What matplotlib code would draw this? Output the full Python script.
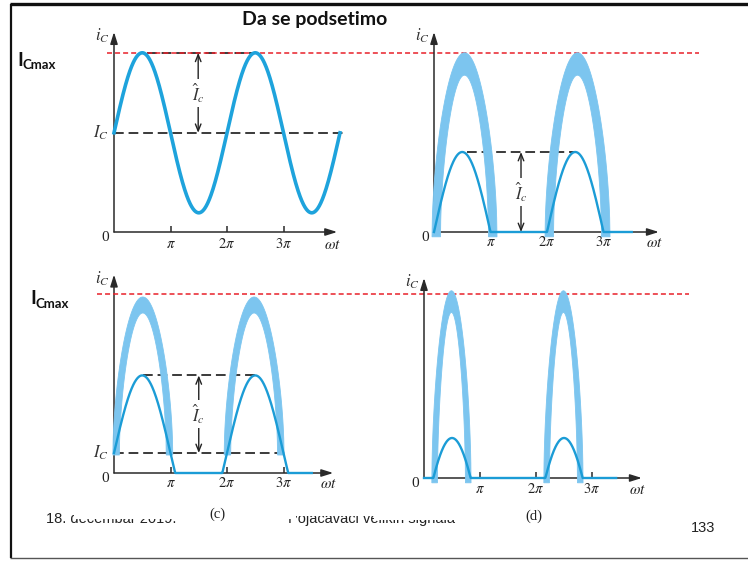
import matplotlib

matplotlib.use("Agg")
import matplotlib.pyplot as plt
import numpy as np
from matplotlib.patches import Polygon, Rectangle

W, H = 748, 562

# waveform values, current in units of the signal amplitude, omega*t in units of pi
IC_MAX = 2.24
AMPLITUDE = 1.0
BIAS_A = 1.24
BIAS_AB = 0.25
AMPLITUDE_AB = 0.97
CUTOFF_C = 0.5

END_A = 4.0
END_B = 3.5
END_AB = 3.5
END_C = 3.43

TICKS = [1, 2, 3]
TICK_LABELS = [r"$\pi$", r"$2\pi$", r"$3\pi$"]

# large-signal bands: outer half width, outer peak, inner half width, inner peak, base
BAND_CENTERS_B = [0.54, 2.54]
BAND_B = [0.575, 2.24, 0.425, 1.96, -0.06]
BAND_CENTERS_AB = [0.51, 2.48]
BAND_AB = [0.53, 2.2, 0.415, 2.0, 0.225]
BAND_CENTERS_C = [0.49, 2.49]
BAND_C = [0.35, 2.34, 0.25, 2.07, -0.06]
BAND_SHAPE = 0.55

AXIS = "#2a2a2a"
DASH = "#3a3a3a"
LINE = "#1ea3dc"
THIN = "#1b9cd6"
BAND = "#7cc5ef"
RED = "#e8202a"

plt.rcParams["mathtext.fontset"] = "stix"
plt.rcParams["lines.scale_dashes"] = False


def panel_axes(fig, origin, box, px_pi=56.5, px_unit=80.0):
    ox, oy = origin
    left, top, right, bottom = box
    ax = fig.add_axes([left / W, 1 - bottom / H, (right - left) / W, (bottom - top) / H])
    ax.set_xlim((left - ox) / px_pi, (right - ox) / px_pi)
    ax.set_ylim((oy - bottom) / px_unit, (oy - top) / px_unit)
    ax.axis("off")
    return ax


def draw_frame(ax, x_end, y_end, lab_dy=-0.15, wt_dy=-0.16):
    arrow = dict(arrowstyle="-|>,head_length=0.7,head_width=0.22", color=AXIS,
                 lw=1.1, shrinkA=0, shrinkB=0)
    ax.annotate("", xy=(x_end, 0), xytext=(0, 0), arrowprops=arrow, zorder=1)
    ax.annotate("", xy=(0, y_end), xytext=(0, 0), arrowprops=arrow, zorder=1)
    ax.vlines(TICKS, 0, 0.07, color=AXIS, lw=1.1, zorder=1)
    for t, lab in zip(TICKS, TICK_LABELS):
        ax.text(t, lab_dy, lab, ha="center", va="center", fontsize=10.5, color="#222")
    ax.text(-0.16, -0.07, "0", ha="center", va="center", fontsize=11,
            family="Liberation Serif", color="#222")
    ax.text(x_end - 0.08, wt_dy, r"$\omega t$", ha="center", va="center", fontsize=11,
            color="#222")
    ax.text(-0.2, y_end - 0.05, r"$i_C$", ha="center", va="center", fontsize=12,
            color="#333")


def dashed(ax, x0, x1, y):
    ax.plot([x0, x1], [y, y], color=DASH, lw=1.4, dashes=(7, 3.5), zorder=2)


def amp_arrow(ax, x, y0, y1):
    ax.annotate("", xy=(x, y1), xytext=(x, y0),
                arrowprops=dict(arrowstyle="<->,head_length=0.5,head_width=0.2",
                                color="#222", lw=1.0, shrinkA=0, shrinkB=0), zorder=4)
    ax.text(x, (y0 + y1) / 2, r"$\hat{I}_c$", ha="center", va="center", fontsize=12,
            color="#333", zorder=5, bbox=dict(fc="white", ec="none", pad=1.5))


def arch(x, left, half, base, peak):
    s = np.clip(np.sin(np.pi * (x - left) / (2 * half)), 0, 1)
    return base + (peak - base) * s ** BAND_SHAPE


def band(ax, center, params):
    ho, po, hi, pin, base = params
    xo = np.linspace(center - ho, center + ho, 200)
    xi = np.linspace(center + hi, center - hi, 200)
    yo = arch(xo, center - ho, ho, base, po)
    yi = arch(xi, center - hi, hi, base, pin)
    pts = np.column_stack([np.r_[xo, xi], np.r_[yo, yi]])
    ax.add_patch(Polygon(pts, closed=True, fc=BAND, ec=BAND, lw=0.6, zorder=3))


fig = plt.figure(figsize=(W / 100, H / 100), dpi=100)

# slide layer
bg = fig.add_axes([0, 0, 1, 1])
bg.set_xlim(0, W)
bg.set_ylim(H, 0)
bg.axis("off")
bg.plot([10, W], [4, 4], color="#111", lw=2.4, solid_capstyle="butt")
bg.plot([11, 11], [4, 558], color="#111", lw=1.6, solid_capstyle="butt")
bg.plot([10, W], [558, 558], color="#555", lw=1.0, solid_capstyle="butt")
bg.text(242, 20, "Da se podsetimo", ha="left", va="center", fontsize=14,
        family="Lato", weight="bold", color="#111")
for x, y in [(17, 60), (30, 299)]:
    bg.text(x, y, "I", ha="left", va="center", fontsize=14, family="Lato",
            weight="bold", color="#111")
    bg.text(x + 6, y + 5, "Cmax", ha="left", va="center", fontsize=9.5,
            family="Lato", weight="bold", color="#111")
bg.text(46, 523, "18. decembar 2019.", ha="left", va="baseline", fontsize=10.5,
        family="Liberation Sans", color="#222")
bg.text(288, 523, "Pojačavači velikih signala", ha="left", va="baseline",
        fontsize=10.5, family="Liberation Sans", color="#222")
bg.text(691, 532, "133", ha="left", va="baseline", fontsize=10.5,
        family="Liberation Sans", color="#222")
# the pasted figures hide the upper part of the footer
bg.add_patch(Rectangle((74, 500), 222, 18.5, fc="white", ec="none", zorder=5))
bg.add_patch(Rectangle((296, 500), 78, 15.5, fc="white", ec="none", zorder=5))
bg.add_patch(Rectangle((374, 500), 110, 19.5, fc="white", ec="none", zorder=5))
bg.text(217, 514, "(c)", ha="center", va="center", fontsize=10.5,
        family="Liberation Serif", color="#222", zorder=6)
bg.text(534, 516, "(d)", ha="center", va="center", fontsize=10.5,
        family="Liberation Serif", color="#222", zorder=6)

# (a) class A
ax = panel_axes(fig, (114, 232), (85, 22, 360, 256))
draw_frame(ax, 3.95, 2.5)
x = np.linspace(0, END_A, 800)
ax.plot(x, BIAS_A + AMPLITUDE * np.sin(np.pi * x), color=LINE, lw=2.6, zorder=3)
dashed(ax, 0, 4.09, BIAS_A)
dashed(ax, 0.58, 2.5, BIAS_A + AMPLITUDE)
amp_arrow(ax, 1.49, BIAS_A, BIAS_A + AMPLITUDE)
ax.text(-0.1, BIAS_A, r"$I_C$", ha="right", va="center", fontsize=12, color="#333")
ax.plot([-0.12, 10.35], [IC_MAX, IC_MAX], color=RED, lw=1.1, dashes=(3.6, 2.2),
        clip_on=False, zorder=2)

# (b) class B
ax = panel_axes(fig, (434, 232), (405, 22, 670, 256))
draw_frame(ax, 3.98, 2.5, lab_dy=-0.12, wt_dy=-0.13)
x = np.linspace(0, END_B, 800)
ax.plot(x, np.maximum(0, AMPLITUDE * np.sin(np.pi * x)), color=THIN, lw=1.7, zorder=4)
for c in BAND_CENTERS_B:
    band(ax, c, BAND_B)
dashed(ax, 0.58, 2.48, AMPLITUDE)
amp_arrow(ax, 1.54, 0, AMPLITUDE)

# (c) class AB
ax = panel_axes(fig, (114, 473), (85, 262, 360, 500))
draw_frame(ax, 3.88, 2.48, lab_dy=-0.12, wt_dy=-0.13)
x = np.linspace(0, END_AB, 800)
ax.plot(x, np.maximum(0, BIAS_AB + AMPLITUDE_AB * np.sin(np.pi * x)), color=THIN,
        lw=1.7, zorder=4)
for c in BAND_CENTERS_AB:
    band(ax, c, BAND_AB)
dashed(ax, 0, 3.08, BIAS_AB)
dashed(ax, 0.52, 2.5, BIAS_AB + AMPLITUDE_AB)
amp_arrow(ax, 1.5, BIAS_AB, BIAS_AB + AMPLITUDE_AB)
ax.text(-0.1, BIAS_AB, r"$I_C$", ha="right", va="center", fontsize=12, color="#333")
ax.plot([-0.3, 10.18], [IC_MAX, IC_MAX], color=RED, lw=1.1, dashes=(3.6, 2.2),
        clip_on=False, zorder=2)

# (d) class C
ax = panel_axes(fig, (424, 478), (395, 266, 660, 500), px_pi=56.0)
draw_frame(ax, 3.89, 2.5, lab_dy=-0.13, wt_dy=-0.15)
x = np.linspace(0, END_C, 800)
ax.plot(x, np.maximum(0, AMPLITUDE * np.sin(np.pi * x) - CUTOFF_C), color=THIN,
        lw=1.7, zorder=4)
for c in BAND_CENTERS_C:
    band(ax, c, BAND_C)

fig.savefig("out.png", dpi=100)
